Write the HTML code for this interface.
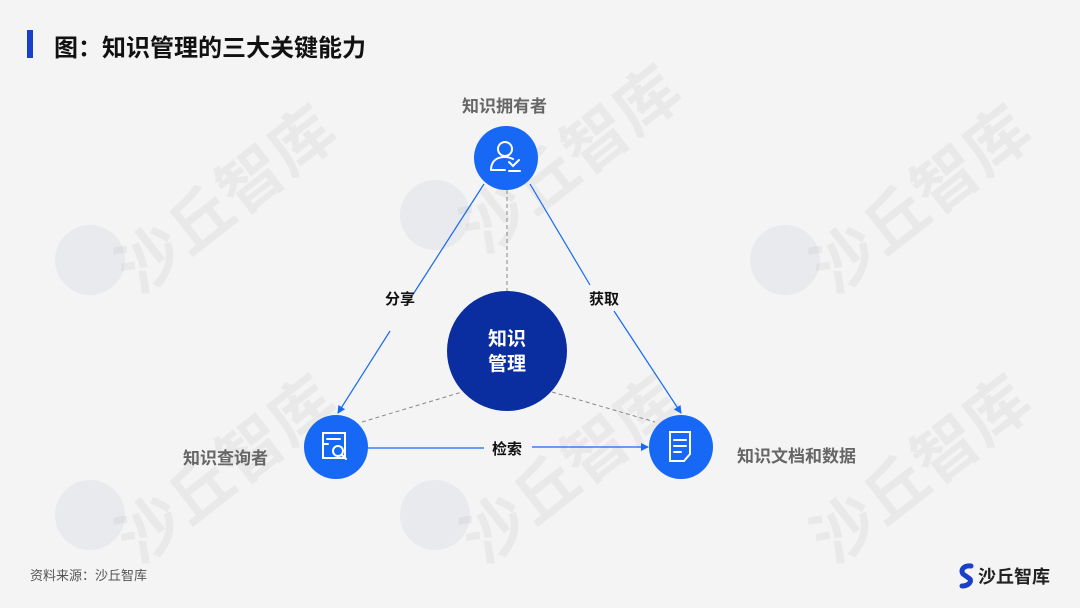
<!DOCTYPE html>
<html><head><meta charset="utf-8"><style>
html,body{margin:0;padding:0;}
body{width:1080px;height:608px;background:#f4f4f4;position:relative;overflow:hidden;font-family:"Liberation Sans","Noto Sans CJK SC",sans-serif;}
.t{position:absolute;white-space:nowrap;}
.wm{position:absolute;font-size:64px;font-weight:bold;color:#000;opacity:0.04;transform:rotate(-38deg);white-space:nowrap;}
.wc{position:absolute;width:70px;height:70px;border-radius:50%;background:#3a4f8f;opacity:0.06;}
</style></head><body>
<div class="wm" style="left:95px;top:150px;">沙丘智库</div>
<div class="wm" style="left:440px;top:110px;">沙丘智库</div>
<div class="wm" style="left:790px;top:150px;">沙丘智库</div>
<div class="wm" style="left:95px;top:420px;">沙丘智库</div>
<div class="wm" style="left:440px;top:420px;">沙丘智库</div>
<div class="wm" style="left:790px;top:420px;">沙丘智库</div>
<div class="wc" style="left:55px;top:225px;"></div>
<div class="wc" style="left:400px;top:180px;"></div>
<div class="wc" style="left:750px;top:225px;"></div>
<div class="wc" style="left:55px;top:480px;"></div>
<div class="wc" style="left:400px;top:480px;"></div>

<div style="position:absolute;left:27px;top:30px;width:6px;height:28px;background:#1a3fc9;"></div>
<div class="t" style="left:54px;top:28px;font-size:24px;font-weight:bold;color:#111;">图：知识管理的三大关键能力</div>

<svg width="1080" height="608" style="position:absolute;left:0;top:0;">
<defs><marker id="a" markerWidth="8" markerHeight="8" refX="7" refY="4" orient="auto" markerUnits="userSpaceOnUse"><path d="M0,0 L8,4 L0,8 z" fill="#1668f5"/></marker></defs>
<g stroke="#888" stroke-width="1" stroke-dasharray="4,3" fill="none">
<line x1="507" y1="190" x2="507" y2="291"/>
<line x1="362" y1="422" x2="462" y2="392"/>
<line x1="552" y1="392" x2="655" y2="422"/>
</g>
<g stroke="#1668f5" stroke-width="1.2" fill="none">
<line x1="484" y1="184" x2="412" y2="296"/>
<line x1="390" y1="331" x2="338" y2="413" marker-end="url(#a)"/>
<line x1="530" y1="184" x2="590" y2="285"/>
<line x1="614" y1="311" x2="681" y2="413" marker-end="url(#a)"/>
<line x1="368" y1="448" x2="484" y2="448"/>
<line x1="532" y1="447" x2="648" y2="447" marker-end="url(#a)"/>
</g>
<circle cx="507" cy="351" r="60" fill="#0a2ea0"/>
<circle cx="506" cy="158" r="32" fill="#1668f5"/>
<circle cx="336" cy="447" r="32" fill="#1668f5"/>
<circle cx="681" cy="447" r="32" fill="#1668f5"/>
<g stroke="#fff" stroke-width="2" fill="none" stroke-linecap="round">
<circle cx="505" cy="149" r="7"/>
<path d="M491,170 C491,160 498,157 505,157 C508,157 511,158 513,159 M491,170 L505,170"/>
<path d="M509,162 L513,166 L519,160 M509,171 L520,171"/>
<rect x="323" y="433" width="22" height="25"/>
<path d="M327,439 L340,439 M324,444 L328,444"/>
<circle cx="338" cy="451" r="5"/><path d="M342,455 L346,459"/>
<path d="M670,432 L690,432 L690,454 L684,461 L670,461 Z M674,440 L686,440 M674,446 L686,446 M674,452 L681,452"/>
</g>
</svg>

<div class="t" style="left:462px;top:92px;font-size:17px;font-weight:bold;color:#666;">知识拥有者</div>
<div class="t" style="left:183px;top:444px;font-size:17px;font-weight:bold;color:#666;">知识查询者</div>
<div class="t" style="left:737px;top:442px;font-size:17px;font-weight:bold;color:#666;">知识文档和数据</div>
<div class="t" style="left:385px;top:288px;font-size:15px;font-weight:bold;color:#111;">分享</div>
<div class="t" style="left:589px;top:288px;font-size:15px;font-weight:bold;color:#111;">获取</div>
<div class="t" style="left:492px;top:438px;font-size:15px;font-weight:bold;color:#111;">检索</div>
<div class="t" style="left:447px;top:327px;width:120px;text-align:center;font-size:19px;font-weight:bold;color:#fff;line-height:25px;">知识<br>管理</div>

<div class="t" style="left:30px;top:565px;font-size:13px;color:#555;">资料来源：沙丘智库</div>
<svg width="18" height="26" style="position:absolute;left:958px;top:563px;"><path d="M13,3 C6,2 2,7 5,11 L12,16 C14,19 10,23 4,23" stroke="#1a3fc9" stroke-width="5" fill="none" stroke-linecap="round"/></svg>
<div class="t" style="left:978px;top:563px;font-size:18px;font-weight:bold;color:#222;">沙丘智库</div>
</body></html>
